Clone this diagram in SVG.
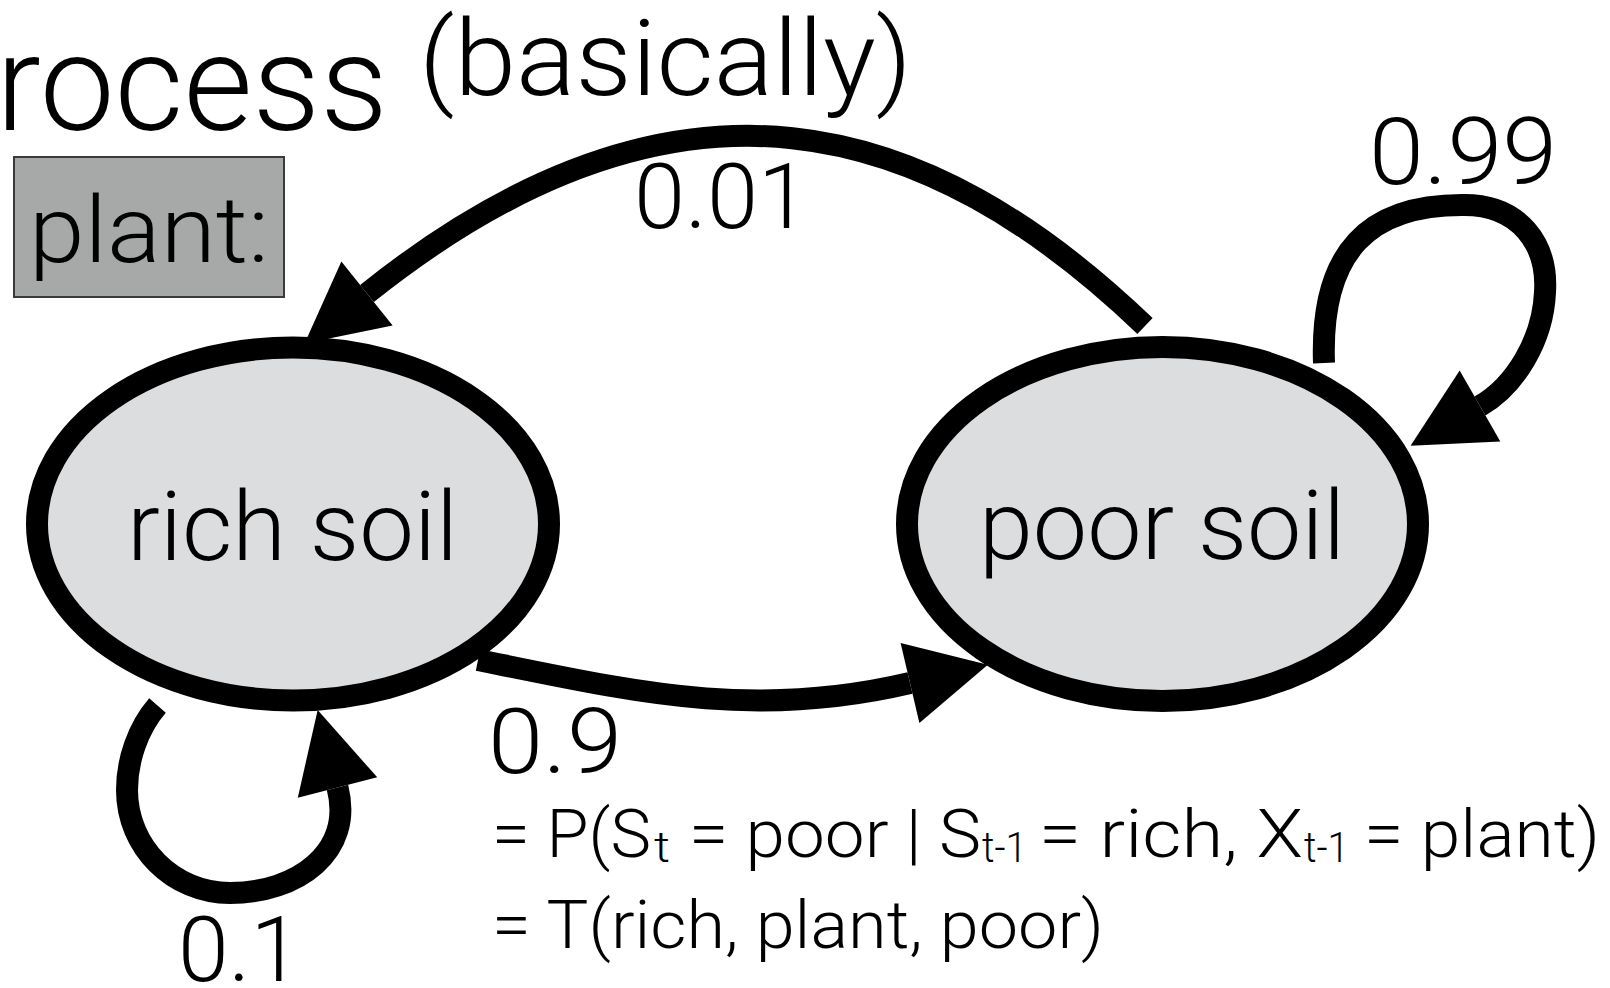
<svg xmlns="http://www.w3.org/2000/svg" width="1610" height="988" viewBox="0 0 1610 988">
  <style>
    .txt { font-family: Roboto, "Liberation Sans", Arial, sans-serif; font-weight: 300; fill: #000; }
    .state ellipse { fill: #dcdddf; stroke: #000; stroke-width: 22; }
    .edge { fill: none; stroke: #000; stroke-width: 22; stroke-linecap: butt; marker-end: url(#head); }
    .action rect { fill: #a6a9a7; stroke: #3a3a3a; stroke-width: 2; }
    .eq { font-size: 66px; }
    .sub { font-size: 42px; }
  </style>
  <defs>
    <!-- solid triangular arrowhead, base sits on the end of the line -->
    <marker id="head" viewBox="0 -41 80 82" refX="0" refY="0" markerWidth="80" markerHeight="82" markerUnits="userSpaceOnUse" orient="auto" overflow="visible">
      <path d="M0,-41 L80,0 L0,41 Z" fill="#000"/>
    </marker>
  </defs>

  <rect width="1610" height="988" fill="#fff"/>

  <!-- heading fragments -->
  <g id="heading">
    <text class="txt" x="-4" y="130" font-size="135" textLength="392" lengthAdjust="spacingAndGlyphs">rocess</text>
    <text class="txt" x="419" y="95" font-size="106" textLength="493" lengthAdjust="spacingAndGlyphs">(basically)</text>
  </g>

  <!-- action tag -->
  <g id="action-plant" class="action">
    <rect x="14" y="157" width="270" height="140"/>
    <text class="txt" x="29" y="262" font-size="93" textLength="240" lengthAdjust="spacingAndGlyphs">plant:</text>
  </g>

  <!-- transitions -->
  <g id="connectors">
    <!-- poor -> rich -->
    <path class="edge" d="M1145,326 C929,119 680,43 367,293.5"/>
    <!-- poor -> poor -->
    <path class="edge" d="M1324,363 C1320,250 1370,205 1462,205 C1520,204 1548,245 1545,292 C1543,340 1515,386 1480,406"/>
    <!-- rich -> poor -->
    <path class="edge" d="M478,660 C636,692 753,720 910,683"/>
    <!-- rich -> rich -->
    <path class="edge" d="M157.5,705.5 C138,728 127,760 127,790 C127,847 173,893 230,893 C297,893 354,852 337.5,787.5"/>
  </g>

  <g id="edge-labels">
    <text class="txt" x="634" y="228" font-size="91" textLength="175" lengthAdjust="spacingAndGlyphs">0.01</text>
    <text class="txt" x="1369" y="184" font-size="93" textLength="188" lengthAdjust="spacingAndGlyphs">0.99</text>
    <text class="txt" x="488" y="773" font-size="91" textLength="134" lengthAdjust="spacingAndGlyphs">0.9</text>
    <text class="txt" x="178" y="981" font-size="90" textLength="123" lengthAdjust="spacingAndGlyphs">0.1</text>
  </g>

  <!-- states -->
  <g id="rich-soil" class="state">
    <ellipse cx="293" cy="524" rx="256" ry="176.5"/>
    <text class="txt" x="127" y="560" font-size="96" textLength="331" lengthAdjust="spacingAndGlyphs">rich soil</text>
  </g>
  <g id="poor-soil" class="state">
    <ellipse cx="1162.5" cy="524" rx="255.5" ry="177"/>
    <text class="txt" x="979" y="559" font-size="96" textLength="366" lengthAdjust="spacingAndGlyphs">poor soil</text>
  </g>

  <!-- probability note -->
  <g id="formula">
    <text class="txt eq" x="492" y="857" textLength="159" lengthAdjust="spacingAndGlyphs">= P(S</text>
    <text class="txt sub" x="654" y="862" textLength="16" lengthAdjust="spacingAndGlyphs">t</text>
    <text class="txt eq" x="689" y="857" textLength="292" lengthAdjust="spacingAndGlyphs">= poor | S</text>
    <text class="txt sub" x="982" y="862" textLength="45" lengthAdjust="spacingAndGlyphs">t-1</text>
    <text class="txt eq" x="1039" y="857" textLength="264" lengthAdjust="spacingAndGlyphs">= rich, X</text>
    <text class="txt sub" x="1304" y="862" textLength="45" lengthAdjust="spacingAndGlyphs">t-1</text>
    <text class="txt eq" x="1364" y="857" textLength="236" lengthAdjust="spacingAndGlyphs">= plant)</text>
    <text class="txt eq" x="492" y="948" textLength="612" lengthAdjust="spacingAndGlyphs">= T(rich, plant, poor)</text>
  </g>
</svg>
